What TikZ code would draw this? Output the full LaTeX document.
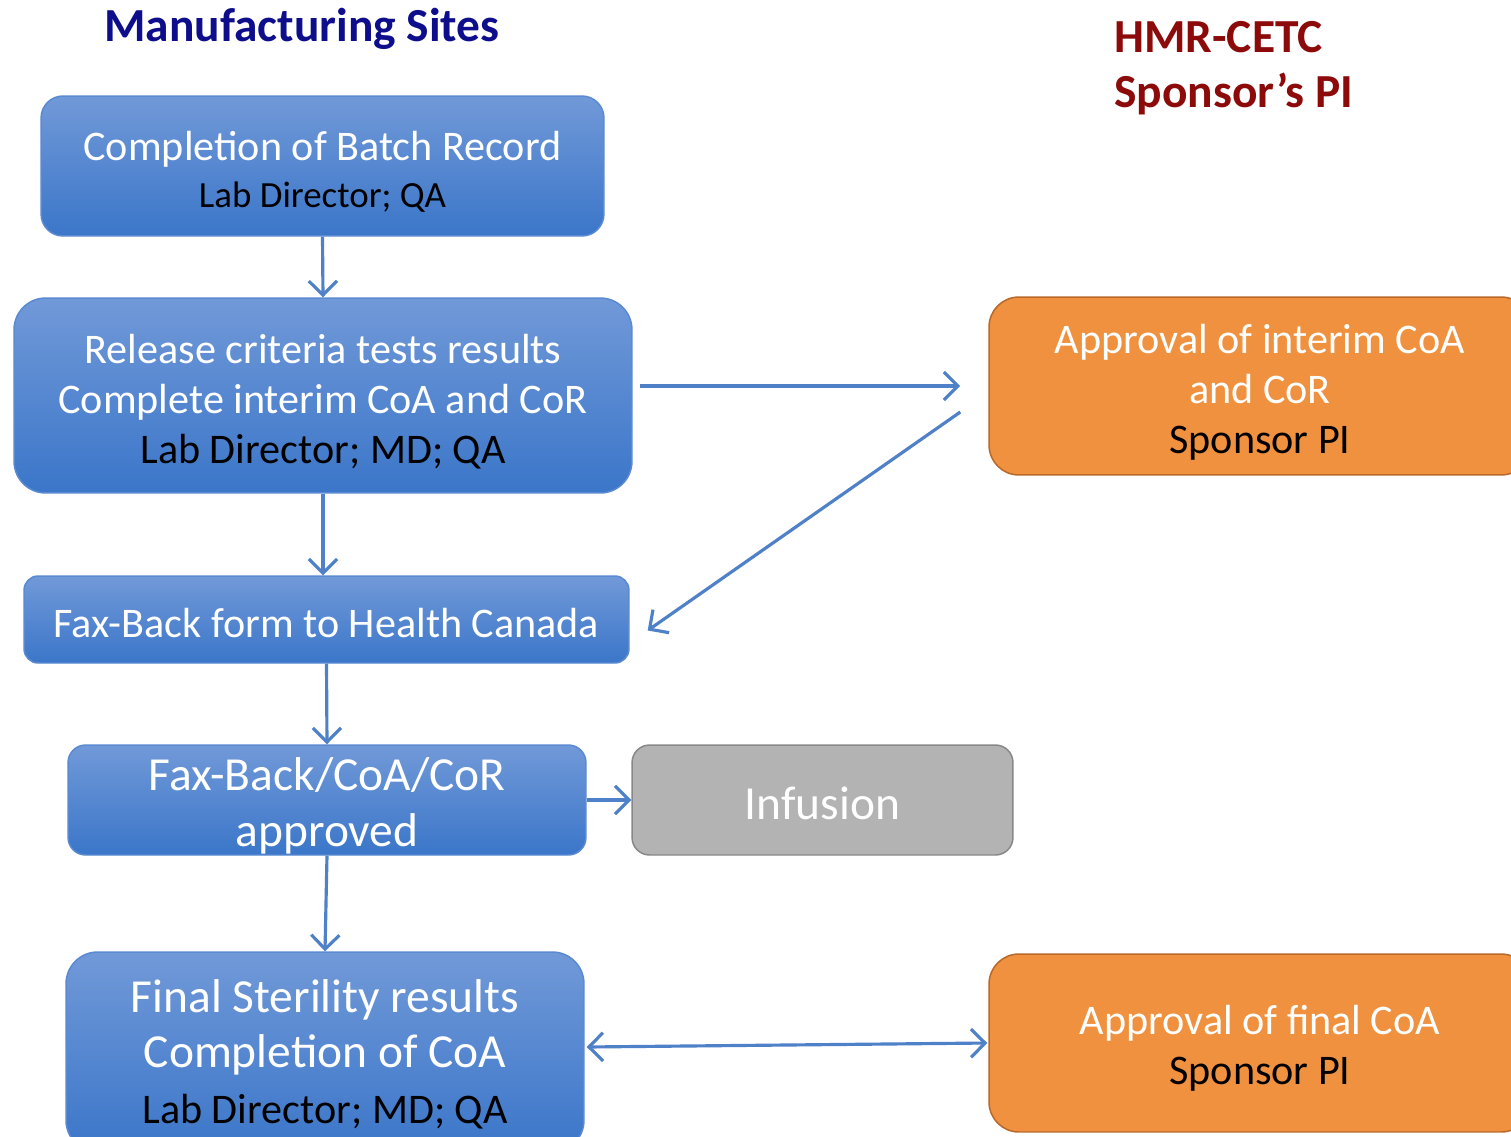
\documentclass[tikz,border=0pt]{standalone}
\usepackage{fontspec}
\setmainfont{Carlito}
\usetikzlibrary{arrows.meta,calc}
\definecolor{bluetop}{HTML}{7199D8}
\definecolor{bluebot}{HTML}{3B76C9}
\definecolor{blueedge}{HTML}{5A8AD2}
\definecolor{arrowblue}{HTML}{4F81C8}
\definecolor{orangefill}{HTML}{F09140}
\definecolor{orangeedge}{HTML}{B8692A}
\definecolor{grayfill}{HTML}{B3B3B3}
\definecolor{grayedge}{HTML}{888888}
\definecolor{navytitle}{HTML}{0E0E8C}
\definecolor{redtitle}{HTML}{8C0A0A}
\tikzset{
  box/.style={align=center, inner sep=0pt, line width=0.85pt},
  bluebox/.style={box, draw=blueedge, top color=bluetop, bottom color=bluebot, text=white},
  orangebox/.style={box, draw=orangeedge, fill=orangefill, text=white},
  graybox/.style={box, draw=grayedge, fill=grayfill, text=white},
  arr/.style={draw=arrowblue, line width=1.8pt, -{Straight Barb[length=8pt,width=16pt,line width=1.8pt]}},
  biarr/.style={draw=arrowblue, line width=1.8pt, {Straight Barb[length=8pt,width=16pt,line width=1.8pt]}-{Straight Barb[length=8pt,width=16pt,line width=1.8pt]}},
}
\newcommand{\txtmain}{\fontsize{24}{28.4}\selectfont}
\newcommand{\txtlarge}{\fontsize{27}{31.5}\selectfont}
\newcommand{\txtsub}{\fontsize{21}{26.6}\selectfont}
% extra room above the first line, so the text block sits a little lower in its box
\newcommand{\toppad}[1]{\raisebox{#1}{\vphantom{l}}}
\begin{document}
\begin{tikzpicture}[x=0.02cm,y=-0.02cm]
\clip (0,0) rectangle (1511,1136);
\fill[white] (0,0) rectangle (1511,1136);

% column headings
\node[anchor=base, text=navytitle, font=\txtlarge\bfseries] (head1) at (302,41) {Manufacturing Sites};
\node[anchor=base west, text=redtitle, font=\txtlarge\bfseries, inner sep=0pt] (head2) at (1114,52) {HMR-CETC};
\node[anchor=base west, text=redtitle, font=\txtlarge\bfseries, inner sep=0pt] (head3) at (1114,107) {Sponsor’s PI};

% manufacturing site steps
\node[bluebox, font=\txtsub, rounded corners=12.5pt, minimum width=11.26cm, minimum height=2.8cm] (b1) at (322.5,166)
  {{\txtmain\toppad{6.2pt}Completion of Batch Record}\\{\color{black}Lab Director; QA}};
\node[bluebox, font=\txtmain, rounded corners=18pt, minimum width=12.36cm, minimum height=3.9cm] (b2) at (323,395.5)
  {\toppad{7.4pt}Release criteria tests results\\Complete interim CoA and CoR\\{\color{black}Lab Director; MD; QA}};
\node[bluebox, font=\txtmain, rounded corners=8pt, minimum width=12.1cm, minimum height=1.74cm] (b3) at (326.5,619.5)
  {\toppad{4.5pt}Fax-Back form to Health Canada};
\node[bluebox, font=\txtlarge, rounded corners=10pt, minimum width=10.36cm, minimum height=2.2cm] (b4) at (327,800)
  {\toppad{6.8pt}Fax-Back/CoA/CoR\\approved};
\node[graybox, font=\txtlarge, rounded corners=10pt, minimum width=7.62cm, minimum height=2.2cm] (inf) at (822.5,800)
  {\toppad{3.4pt}Infusion};
\node[bluebox, font=\txtlarge, rounded corners=18pt, minimum width=10.36cm, minimum height=4.0cm] (b5) at (325,1052)
  {\toppad{2.3pt}Final Sterility results\\Completion of CoA\\{\txtmain\color{black}Lab Director; MD; QA}};

% sponsor approvals
\node[orangebox, font=\txtmain, rounded corners=17pt, minimum width=10.84cm, minimum height=3.56cm] (o1) at (1260,386)
  {\toppad{7.4pt}Approval of interim CoA\\and CoR\\{\color{black}Sponsor PI}};
\node[orangebox, font=\txtmain, rounded corners=17pt, minimum width=10.84cm, minimum height=3.56cm] (o2) at (1260,1043)
  {\toppad{6.2pt}Approval of final CoA\\{\color{black}Sponsor PI}};

% connectors
\path (o1.west) ++(-28,26) coordinate (back1);
\path (b3.east) ++(18,11) coordinate (back2);
\path (b5.east) ++(2,-5) coordinate (fin1);
\path (o2.west) ++(-1,0) coordinate (fin2);
\draw[arr] (b1.south) -- (b2.north);
\draw[arr] (b2.south) -- (b2.south |- b3.north);
\draw[arr, shorten <=4pt, shorten >=16pt] (b2.east |- o1.west) -- (o1.west);
\draw[arr] (back1) -- (back2);
\draw[arr] (b3.south) -- (b4.north);
\draw[arr] (b4.east) -- (inf.west);
\draw[arr] (b4.south) -- (b5.north);
\draw[biarr] (fin1) -- (fin2);
\end{tikzpicture}
\end{document}
